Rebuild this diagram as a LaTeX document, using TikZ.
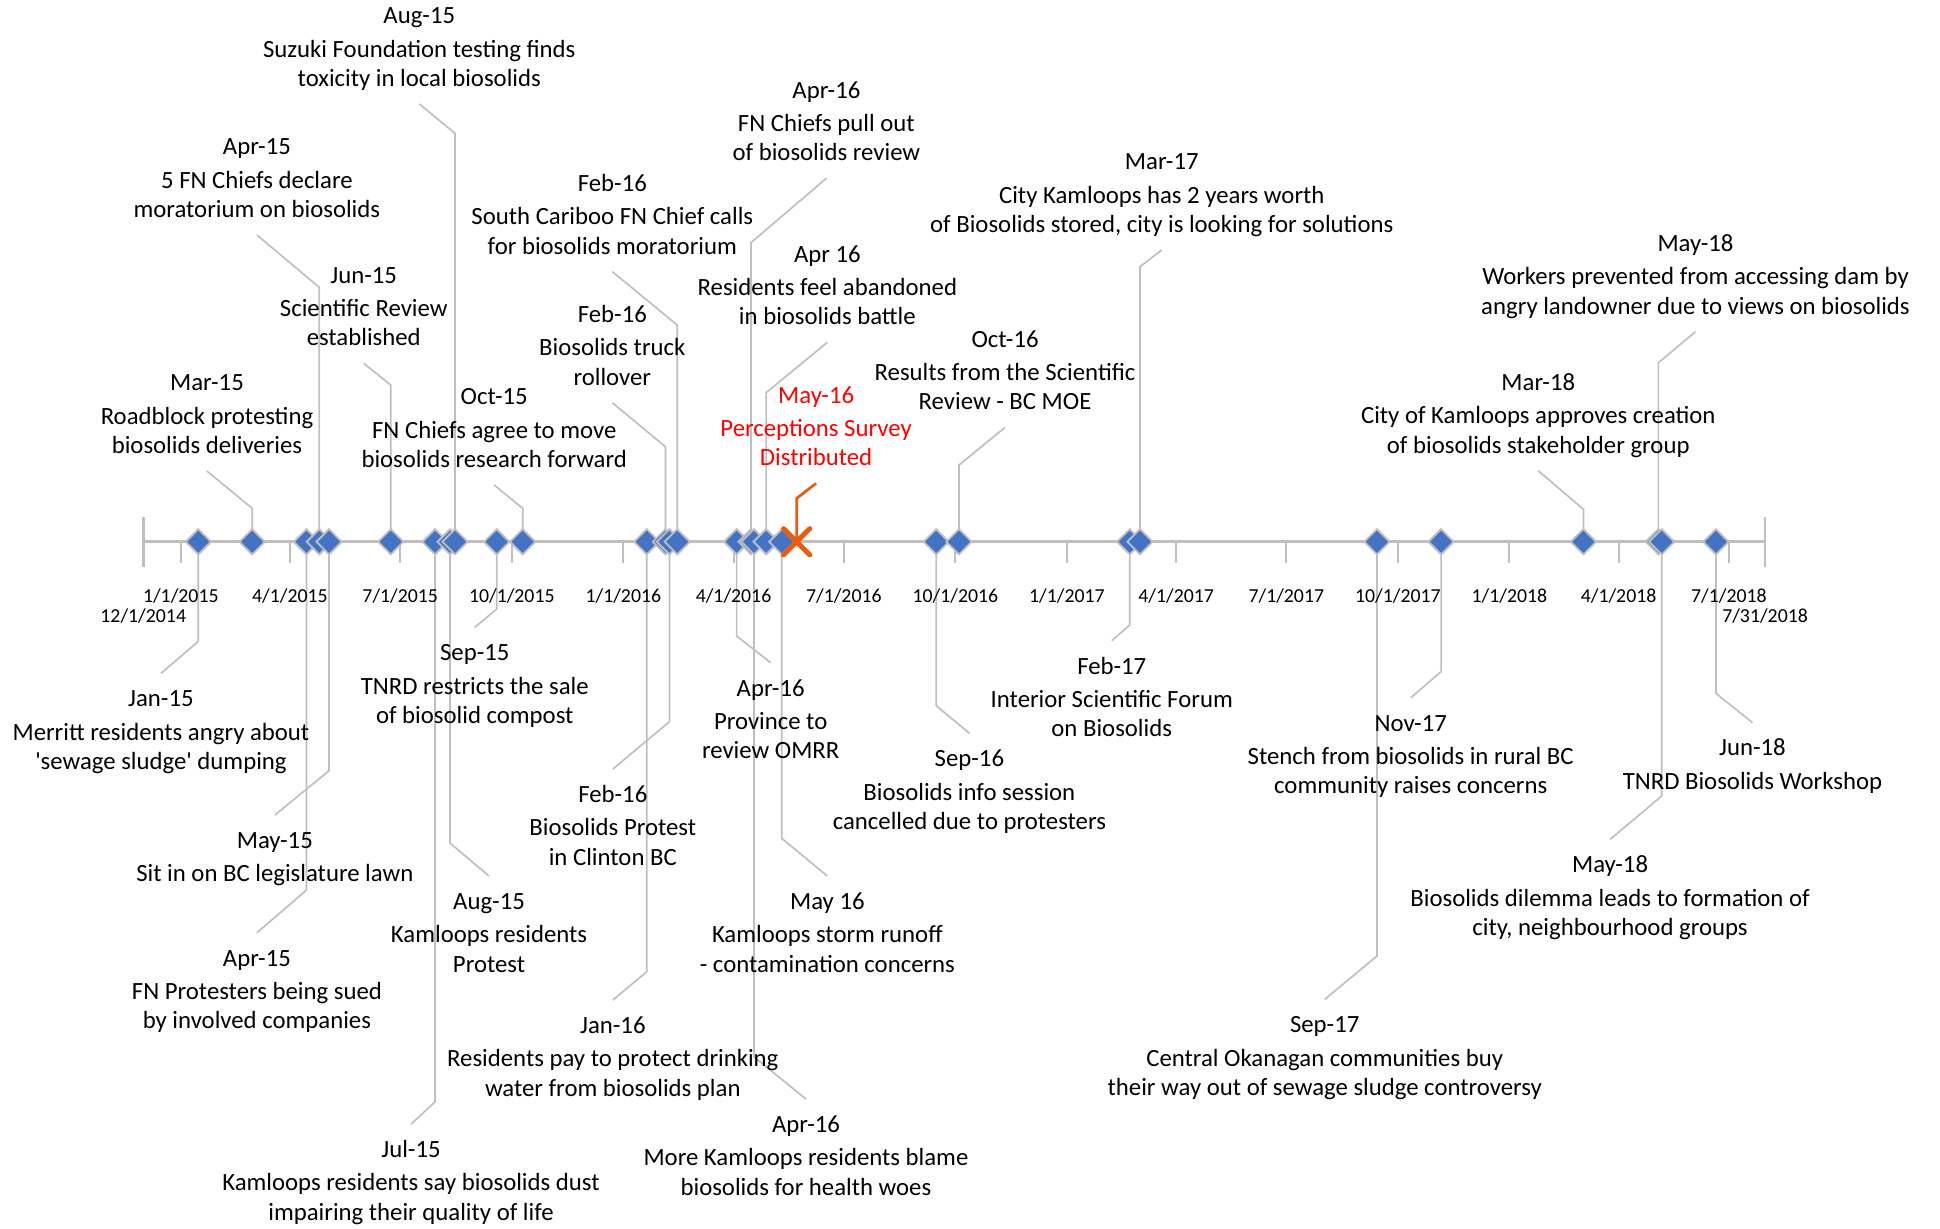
\documentclass[tikz,border=0pt]{standalone}
\usepackage{fontspec}
\setmainfont{Carlito}[Ligatures=TeXOff]
\usetikzlibrary{shapes.geometric,shapes.misc}
\definecolor{lgray}{HTML}{BFBFBF}
\definecolor{mblue}{HTML}{4472C4}
\definecolor{xorange}{HTML}{E85D0D}
\definecolor{rtext}{HTML}{FF0000}
\newcommand\evlab[3]{\strut#1\\[1.7pt]\strut#2\\\strut#3}
\newcommand\evlabb[2]{\strut#1\\[1.7pt]\strut#2}
\pgfdeclarelayer{bg}
\pgfsetlayers{bg,main}
\begin{document}
\begin{tikzpicture}[x=0.5pt,y=-0.5pt,
  lead/.style={draw=lgray,line width=0.68pt},
  axisln/.style={draw=lgray,line width=1.1pt},
  tickln/.style={draw=lgray,line width=0.8pt},
  dia/.style={diamond,aspect=1,minimum size=10.5pt,inner sep=0pt,fill=mblue,draw=lgray,line width=0.75pt},
  xmark/.style={cross out,draw=xorange,line width=2pt,minimum size=8.6pt,inner sep=0pt,line cap=round},
  orlead/.style={draw=xorange,line width=1.1pt},
  lab/.style={align=center,font=\fontsize{10}{11.8}\selectfont,inner xsep=0pt},
  labA/.style={lab,anchor=south,inner ysep=3.36pt},
  labB/.style={lab,anchor=north,inner ysep=5pt},
  ticklab/.style={font=\fontsize{8}{9.6}\selectfont,anchor=base,inner sep=0pt}]
\useasboundingbox (0,0) rectangle (1567,992);

% axis ends
\coordinate (ax0) at (115.7,437.6);
\coordinate (ax1) at (1425.7,437.6);

% marker positions (above events a, below events b)
\coordinate (a1) at (367.5,437.6);
\coordinate (a2) at (257.9,437.6);
\coordinate (a3) at (315.6,437.6);
\coordinate (a4) at (203.7,437.6);
\coordinate (a5) at (422.2,437.6);
\coordinate (a6) at (547.0,437.6);
\coordinate (a7) at (537.5,437.6);
\coordinate (a8) at (606.6,437.6);
\coordinate (a9) at (618.8,437.6);
\coordinate (a10) at (643.5,437.6);
\coordinate (a11) at (774.6,437.6);
\coordinate (a12) at (920.8,437.6);
\coordinate (a13) at (1339.5,437.6);
\coordinate (a14) at (1279.0,437.6);
\coordinate (b1) at (160.2,437.6);
\coordinate (b2) at (265.8,437.6);
\coordinate (b3) at (247.5,437.6);
\coordinate (b4) at (401.2,437.6);
\coordinate (b5) at (363.5,437.6);
\coordinate (b6) at (351.4,437.6);
\coordinate (b7) at (540.7,437.6);
\coordinate (b8) at (522.4,437.6);
\coordinate (b9) at (595.0,437.6);
\coordinate (b10) at (631.5,437.6);
\coordinate (b11) at (609.0,437.6);
\coordinate (b12) at (756.2,437.6);
\coordinate (b13) at (912.5,437.6);
\coordinate (b14) at (1112.2,437.6);
\coordinate (b15) at (1164.0,437.6);
\coordinate (b16) at (1386.0,437.6);
\coordinate (b17) at (1342.2,437.6);

% labels above the axis
\node[labA] (l1) at (338.7,84) {\evlab{Aug-15}{Suzuki Foundation testing finds}{toxicity in local biosolids}};
\node[labA] (l2) at (207.5,189.8) {\evlab{Apr-15}{5 FN Chiefs declare}{moratorium on biosolids}};
\node[labA] (l3) at (293.8,293.5) {\evlab{Jun-15}{Scientific Review}{established}};
\node[labA] (l4) at (167.2,380.5) {\evlab{Mar-15}{Roadblock protesting}{biosolids deliveries}};
\node[labA] (l5) at (399.2,391.8) {\evlab{Oct-15}{FN Chiefs agree to move}{biosolids research forward}};
\node[labA] (l6) at (494.6,219.4) {\evlab{Feb-16}{South Cariboo FN Chief calls}{for biosolids moratorium}};
\node[labA] (l7) at (494.6,325.3) {\evlab{Feb-16}{Biosolids truck}{rollover}};
\node[labA] (l8) at (667.5,144) {\evlab{Apr-16}{FN Chiefs pull out}{of biosolids review}};
\node[labA] (l9) at (668.3,276.5) {\evlab{Apr 16}{Residents feel abandoned}{in biosolids battle}};
\node[labA,text=rtext] (l10) at (659.2,390.4) {\evlab{May-16}{Perceptions Survey}{Distributed}};
\node[labA] (l11) at (811.8,345.2) {\evlab{Oct-16}{Results from the Scientific}{Review - BC MOE}};
\node[labA] (l12) at (938.4,201.9) {\evlab{Mar-17}{City Kamloops has 2 years worth}{of Biosolids stored, city is looking for solutions}};
\node[labA] (l13) at (1369.5,267.9) {\evlab{May-18}{Workers prevented from accessing dam by}{angry landowner due to views on biosolids}};
\node[labA] (l14) at (1242.5,380.2) {\evlab{Mar-18}{City of Kamloops approves creation}{of biosolids stakeholder group}};

% labels below the axis
\node[labB] (m1) at (130,543.9) {\evlab{Jan-15}{Merritt residents angry about}{'sewage sludge' dumping}};
\node[labB] (m2) at (222,658.3) {\evlabb{May-15}{Sit in on BC legislature lawn}};
\node[labB] (m3) at (207.5,753.4) {\evlab{Apr-15}{FN Protesters being sued}{by involved companies}};
\node[labB] (m4) at (383.5,506.7) {\evlab{Sep-15}{TNRD restricts the sale}{of biosolid compost}};
\node[labB] (m5) at (395,707.6) {\evlab{Aug-15}{Kamloops residents}{Protest}};
\node[labB] (m6) at (332,908) {\evlab{Jul-15}{Kamloops residents say biosolids dust}{impairing their quality of life}};
\node[labB] (m7) at (495,621.2) {\evlab{Feb-16}{Biosolids Protest}{in Clinton BC}};
\node[labB] (m8) at (495,807.8) {\evlab{Jan-16}{Residents pay to protect drinking}{water from biosolids plan}};
\node[labB] (m9) at (622.5,535.3) {\evlab{Apr-16}{Province to}{review OMRR}};
\node[labB] (m10) at (668.3,707.6) {\evlab{May 16}{Kamloops storm runoff}{- contamination concerns}};
\node[labB] (m11) at (651,887.7) {\evlab{Apr-16}{More Kamloops residents blame}{biosolids for health woes}};
\node[labB] (m12) at (783,592.3) {\evlab{Sep-16}{Biosolids info session}{cancelled due to protesters}};
\node[labB] (m13) at (898,517.5) {\evlab{Feb-17}{Interior Scientific Forum}{on Biosolids}};
\node[labB] (m14) at (1070,807.2) {\evlab{Sep-17}{Central Okanagan communities buy}{their way out of sewage sludge controversy}};
\node[labB] (m15) at (1139.5,563.6) {\evlab{Nov-17}{Stench from biosolids in rural BC}{community raises concerns}};
\node[labB] (m16) at (1415.5,583.7) {\evlabb{Jun-18}{TNRD Biosolids Workshop}};
\node[labB] (m17) at (1300.5,678) {\evlab{May-18}{Biosolids dilemma leads to formation of}{city, neighbourhood groups}};

% tick labels
\foreach \x/\t [count=\i] in {146.05/{1/1/2015},234.2/{4/1/2015},323.3/{7/1/2015},413.4/{10/1/2015},503.5/{1/1/2016},592.5/{4/1/2016},681.6/{7/1/2016},771.7/{10/1/2016},861.8/{1/1/2017},950.0/{4/1/2017},1039.0/{7/1/2017},1129.1/{10/1/2017},1219.2/{1/1/2018},1307.4/{4/1/2018},1396.5/{7/1/2018}}
  \node[ticklab] (t\i) at (\x,486.5) {\t};
\node[ticklab] (tstart) at (115.7,503) {12/1/2014};
\node[ticklab] (tend) at (1425.7,503) {7/31/2018};

\begin{pgfonlayer}{bg}
% leader lines, above
\draw[lead] (a1) -- (a1 |- 0,107.7) -- (l1.south);
\draw[lead] (a2) -- (a2 |- 0,232.1) -- (l2.south);
\draw[lead] (a3) -- (a3 |- 0,311) -- (l3.south);
\draw[lead] (a4) -- (a4 |- 0,410.6) -- (l4.south);
\draw[lead] (a5) -- (a5 |- 0,410.6) -- (l5.south);
\draw[lead] (a6) -- (a6 |- 0,262.5) -- (l6.south);
\draw[lead] (a7) -- (a7 |- 0,360.8) -- (l7.south);
\draw[lead] (a8) -- (a8 |- 0,196) -- (l8.south);
\draw[lead] (a9) -- (a9 |- 0,317.2) -- (l9.south);
\draw[lead] (a11) -- (a11 |- 0,375.6) -- (l11.south);
\draw[lead] (a12) -- (a12 |- 0,215.4) -- (l12.south);
\draw[lead] (a13) -- (a13 |- 0,293) -- (l13.south);
\draw[lead] (a14) -- (a14 |- 0,411.4) -- (l14.south);
% leader lines, below
\draw[lead] (b1) -- (b1 |- 0,518) -- (m1.north);
\draw[lead] (b2) -- (b2 |- 0,622.5) -- (m2.north);
\draw[lead] (b3) -- (b3 |- 0,719) -- (m3.north);
\draw[lead] (b4) -- (b4 |- 0,492) -- (m4.north);
\draw[lead] (b5) -- (b5 |- 0,681) -- (m5.north);
\draw[lead] (b6) -- (b6 |- 0,890) -- (m6.north);
\draw[lead] (b7) -- (b7 |- 0,582.9) -- (m7.north);
\draw[lead] (b8) -- (b8 |- 0,784.9) -- (m8.north);
\draw[lead] (b9) -- (b9 |- 0,513.7) -- (m9.north);
\draw[lead] (b10) -- (b10 |- 0,677.2) -- (m10.north);
\draw[lead] (b11) -- (b11 |- 0,853.6) -- (m11.north);
\draw[lead] (b12) -- (b12 |- 0,570) -- (m12.north);
\draw[lead] (b13) -- (b13 |- 0,504.8) -- (m13.north);
\draw[lead] (b14) -- (b14 |- 0,772.2) -- (m14.north);
\draw[lead] (b15) -- (b15 |- 0,542.5) -- (m15.north);
\draw[lead] (b16) -- (b16 |- 0,560) -- (m16.north);
\draw[lead] (b17) -- (b17 |- 0,643) -- (m17.north);
% axis and ticks
\draw[axisln] (ax0) -- (ax1);
\draw[axisln] (115.7,417.6) -- (115.7,457.6);
\draw[axisln] (1425.7,417.6) -- (1425.7,457.6);
\foreach \x in {146.05,234.2,323.3,413.4,503.5,592.5,681.6,771.7,861.8,950.0,1039.0,1129.1,1219.2,1307.4,1396.5}
  \draw[tickln] (\x,437.6) -- (\x,455.1);
% orange leader
\draw[orlead] (a10) -- (a10 |- 0,402.5) -- (l10.south);
\end{pgfonlayer}

% markers
\foreach \p in {b1,a4,b3,a2,b2,a3,b6,b5,a1,b4,a5,b8,a7,b7,a6,b9,a8,b11,a9,b10,b12,a11,b13,a12,b14,b15,a14,a13,b17,b16}
  \node[dia] (d\p) at (\p) {};
\node[xmark] (xm) at (a10) {};
\end{tikzpicture}
\end{document}
